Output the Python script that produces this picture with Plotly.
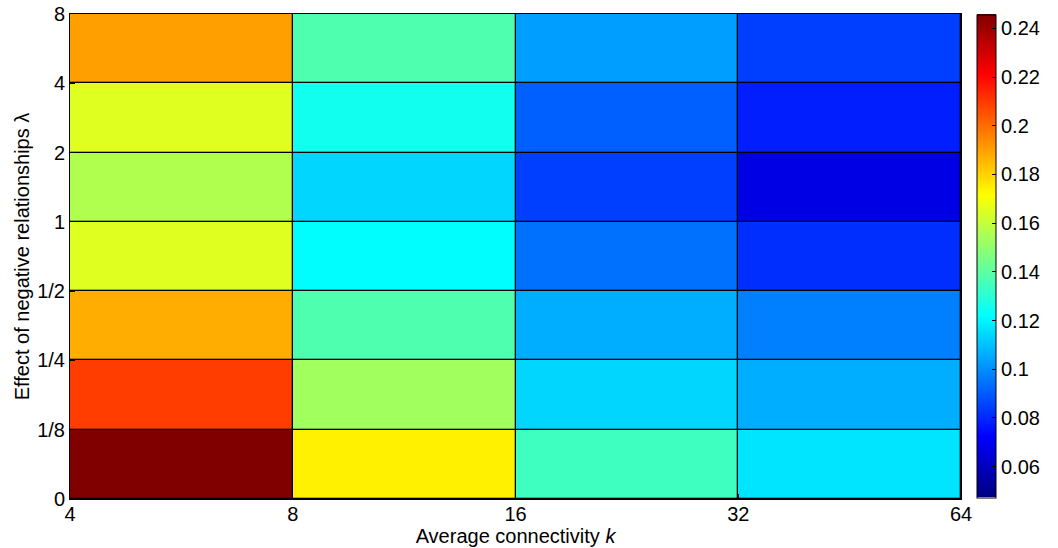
import plotly.graph_objects as go

k_labels = ["4", "8", "16", "32", "64"]
lambda_labels = ["0", "1/8", "1/4", "1/2", "1", "2", "4", "8"]

# rows: lambda bins from bottom (0-1/8) to top (4-8); columns: k bins 4-8, 8-16, 16-32, 32-64
col_k4_8 = [0.246, 0.209, 0.187, 0.165, 0.156, 0.165, 0.190]
col_k8_16 = [0.174, 0.153, 0.137, 0.1216, 0.1137, 0.125, 0.137]
col_k16_32 = [0.134, 0.1137, 0.106, 0.0938, 0.0843, 0.0906, 0.103]
col_k32_64 = [0.1166, 0.106, 0.0968, 0.081, 0.0669, 0.078, 0.0843]

cmin_val = 0.0473
cmax_val = 0.2457
cbar_ticks = [0.06, 0.08, 0.1, 0.12, 0.14, 0.16, 0.18, 0.2, 0.22, 0.24]
cbar_ticktext = ["0.06", "0.08", "0.1", "0.12", "0.14", "0.16", "0.18", "0.2", "0.22", "0.24"]

z = [[col_k4_8[i], col_k8_16[i], col_k16_32[i], col_k32_64[i]] for i in range(len(col_k4_8))]

jet = [
    [0.0, "rgb(0,0,128)"],
    [0.125, "rgb(0,0,255)"],
    [0.375, "rgb(0,255,255)"],
    [0.625, "rgb(255,255,0)"],
    [0.875, "rgb(255,0,0)"],
    [1.0, "rgb(128,0,0)"],
]

xe = list(range(len(k_labels)))
ye = list(range(len(lambda_labels)))

FONT = "Liberation Sans, Arial, sans-serif"
FS = 20

fig = go.Figure(
    go.Heatmap(
        z=z,
        x=xe,
        y=ye,
        colorscale=jet,
        zmin=cmin_val,
        zmax=cmax_val,
        xgap=1.3,
        ygap=1.3,
        hoverinfo="z",
        colorbar=dict(
            x=(977 - 70) / 891,
            xanchor="left",
            xpad=0,
            ypad=0,
            y=0.5 + 0.5 / 485,
            yanchor="middle",
            len=483 / 485,
            lenmode="fraction",
            thickness=19,
            outlinecolor="black",
            outlinewidth=1,
            tickvals=cbar_ticks,
            ticktext=cbar_ticktext,
            ticks="inside",
            ticklen=4,
            tickcolor="black",
            tickfont=dict(family=FONT, size=FS, color="black"),
        ),
    )
)

fig.update_layout(
    width=1058,
    height=548,
    margin=dict(l=70, r=97, t=14, b=49, autoexpand=False),
    paper_bgcolor="white",
    plot_bgcolor="black",
    font=dict(family=FONT, size=FS, color="black"),
)

fig.update_xaxes(
    range=[0, len(k_labels) - 1],
    tickvals=xe,
    ticktext=k_labels,
    ticks="inside",
    ticklen=5,
    tickcolor="black",
    showline=True,
    linecolor="black",
    linewidth=1,
    mirror=True,
    showgrid=False,
    zeroline=False,
    automargin=False,
    ticklabelstandoff=-3,
    tickfont=dict(family=FONT, size=FS, color="black"),
    title=dict(text="Average connectivity <i>k</i>", standoff=0,
               font=dict(family=FONT, size=FS, color="black")),
)
fig.update_yaxes(
    range=[0, len(lambda_labels) - 1],
    tickvals=ye,
    ticktext=lambda_labels,
    ticks="inside",
    ticklen=5,
    tickcolor="black",
    showline=True,
    linecolor="black",
    linewidth=1,
    mirror=True,
    showgrid=False,
    zeroline=False,
    automargin=False,
    ticklabelstandoff=0,
    tickfont=dict(family=FONT, size=FS, color="black"),
    title=dict(text="Effect of negative relationships λ", standoff=2,
               font=dict(family=FONT, size=FS, color="black")),
)

fig.write_html("out.html")
